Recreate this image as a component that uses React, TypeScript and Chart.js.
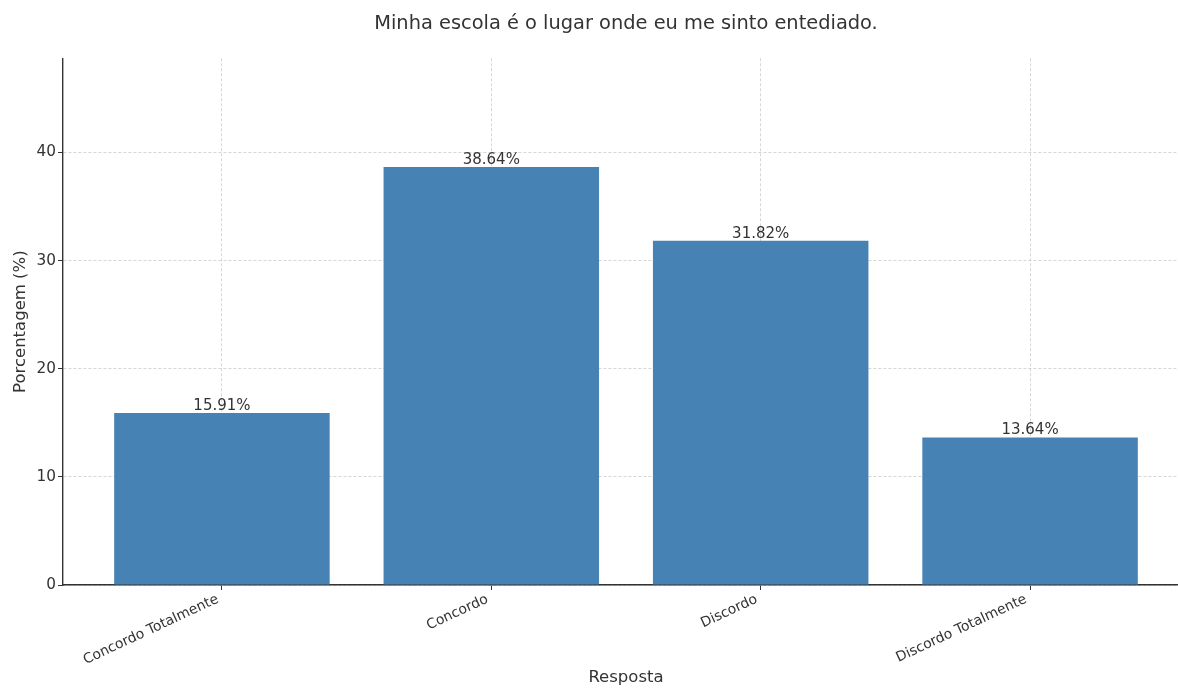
import React, { useEffect, useRef } from "react";
import { Chart, registerables } from "chart.js";

Chart.register(...registerables);

const categories = ["Concordo Totalmente", "Concordo", "Discordo", "Discordo Totalmente"];
const percentages = [15.91, 38.64, 31.82, 13.64];
const yTickValues = [0, 10, 20, 30, 40];
const yMax = 48.7;
const chartTitle = "Minha escola é o lugar onde eu me sinto entediado.";
const xAxisTitle = "Resposta";
const yAxisTitle = "Porcentagem (%)";

const FONT = "'DejaVu Sans', sans-serif";
const TEXT = "#333333";
const BAR = "#4682B4";
const GRID = "rgba(176,176,176,0.65)";

const valueLabels = {
  id: "valueLabels",
  afterDraw(chart: any) {
    const ctx = chart.ctx;
    const meta = chart.getDatasetMeta(0);
    ctx.save();
    ctx.font = `15px ${FONT}`;
    ctx.fillStyle = TEXT;
    ctx.textAlign = "center";
    ctx.textBaseline = "alphabetic";
    meta.data.forEach((bar: any, i: number) => {
      ctx.fillText(`${percentages[i].toFixed(2)}%`, bar.x, bar.y - 3);
    });
    ctx.restore();
  },
};

export default function App() {
  const canvasRef = useRef<HTMLCanvasElement | null>(null);

  useEffect(() => {
    if (!canvasRef.current) return;
    Chart.defaults.font.family = FONT;
    const gridOpts = {
      color: GRID,
      lineWidth: 0.8,
      tickLength: 5,
      tickColor: TEXT,
      tickWidth: 1,
      tickBorderDash: [],
      offset: false,
    };
    const borderOpts = { display: true, color: TEXT, width: 1.4, dash: [3, 2] };
    const chart = new Chart(canvasRef.current, {
      type: "bar",
      data: {
        datasets: [
          {
            data: percentages.map((v, i) => ({ x: i, y: v })),
            backgroundColor: BAR,
            borderWidth: 0,
            barPercentage: 0.8,
            categoryPercentage: 1,
          },
        ],
      },
      options: {
        responsive: false,
        animation: false,
        layout: { padding: 0 },
        plugins: {
          legend: { display: false },
          tooltip: { enabled: false },
          title: {
            display: true,
            text: chartTitle,
            fullSize: false,
            color: TEXT,
            font: { family: FONT, size: 19.4, weight: "normal" },
            padding: { top: 12, bottom: 23 },
          },
        },
        scales: {
          x: {
            type: "linear",
            min: -0.59,
            max: 3.59,
            offset: false,
            z: 1,
            afterBuildTicks: (s: any) => {
              s.ticks = categories.map((_, i) => ({ value: i }));
            },
            afterFit: (s: any) => {
              s.height = 104;
            },
            ticks: {
              callback: (v: any) => categories[Math.round(Number(v))] ?? "",
              minRotation: 25,
              maxRotation: 25,
              autoSkip: false,
              color: TEXT,
              font: { family: FONT, size: 13.9 },
              padding: 1,
              labelOffset: -4,
            },
            grid: gridOpts,
            border: borderOpts,
            title: {
              display: true,
              text: xAxisTitle,
              color: TEXT,
              font: { family: FONT, size: 16.5 },
              padding: { top: 0, bottom: 1 },
            },
          },
          y: {
            type: "linear",
            min: 0,
            max: yMax,
            z: 1,
            afterBuildTicks: (s: any) => {
              s.ticks = yTickValues.map((v) => ({ value: v }));
            },
            afterFit: (s: any) => {
              s.width = 63;
            },
            ticks: {
              color: TEXT,
              font: { family: FONT, size: 15.3 },
              padding: 2,
            },
            grid: gridOpts,
            border: borderOpts,
            title: {
              display: true,
              text: yAxisTitle,
              color: TEXT,
              font: { family: FONT, size: 16.5 },
              padding: { top: 11, bottom: 0 },
            },
          },
        },
      } as any,
      plugins: [valueLabels],
    });
    return () => chart.destroy();
  }, []);

  return (
    <div
      style={{
        position: "fixed",
        left: 0,
        top: 0,
        width: 1178,
        height: 689,
        overflow: "hidden",
        background: "#ffffff",
      }}
    >
      <canvas ref={canvasRef} width={1189} height={689} style={{ width: 1189, height: 689, display: "block" }} />
    </div>
  );
}
